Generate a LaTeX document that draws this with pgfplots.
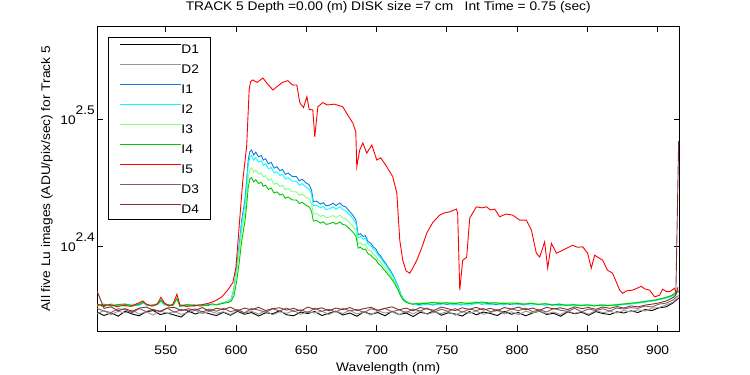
\documentclass[border=0pt]{standalone}
\usepackage{pgfplots}
\pgfplotsset{compat=1.18}
\usepackage{pgfplotstable}
\usepackage{fontspec}
\setmainfont{Liberation Sans}[FakeStretch=1.1]
\newcommand{\ff}{\fontsize{12.5}{15}\selectfont}
\definecolor{cD2}{RGB}{150,150,150}
\definecolor{cI1}{RGB}{20,120,220}
\definecolor{cI2}{RGB}{0,255,255}
\definecolor{cI3}{RGB}{128,255,128}
\definecolor{cI4}{RGB}{0,200,0}
\definecolor{cI5}{RGB}{255,0,0}
\definecolor{cD3}{RGB}{140,90,90}
\definecolor{cD4}{RGB}{128,50,50}

\pgfplotstableread{
x D1 D2 D3 D4
501 223.3 222.6 224.8 232.0
506 221.9 223.9 223.7 224.8
511 223.0 222.2 223.1 225.4
516 221.6 223.6 224.6 223.8
521 223.6 223.0 224.2 224.7
526 222.5 224.1 223.0 223.5
531 221.8 222.5 224.7 224.9
536 223.4 223.4 223.5 225.3
541 223.9 222.1 224.4 224.1
546 222.3 223.8 223.4 223.6
551 222.9 222.7 224.9 224.9
556 222.1 223.5 223.2 225.2
561 221.3 222.4 224.3 223.9
566 223.7 223.1 223.8 224.6
571 222.5 224.0 224.6 224.0
576 223.5 222.6 223.3 225.1
581 222.6 223.7 224.5 223.7
586 221.9 222.8 223.6 224.8
591 223.2 223.4 224.8 224.3
596 222.0 222.3 223.4 225.3
601 223.6 223.9 224.3 223.8
606 222.4 222.9 223.0 224.9
611 223.1 223.6 224.7 224.2
616 221.7 222.5 224.1 225.2
621 223.0 223.8 223.2 223.9
626 222.6 222.2 224.6 224.7
631 223.8 223.4 223.7 225.0
636 222.2 222.8 224.9 224.1
641 221.8 223.9 223.5 224.8
646 223.3 222.4 224.2 223.7
651 222.7 223.5 223.1 225.3
656 223.5 222.9 224.8 224.4
661 221.9 223.7 223.6 225.0
666 222.8 222.3 224.4 223.8
671 223.7 223.6 223.3 224.9
676 222.1 222.7 224.7 224.3
681 222.9 224.0 223.8 225.1
686 221.6 222.5 224.3 223.9
691 223.4 223.3 223.1 224.7
696 222.4 222.1 224.6 225.2
701 223.1 223.8 223.9 224.0
706 221.8 222.9 224.8 224.8
711 223.6 223.4 223.4 225.4
716 222.3 222.2 224.2 224.2
721 222.9 223.7 223.0 224.9
726 221.5 222.6 224.5 223.8
731 223.2 223.9 223.7 225.1
736 222.6 222.4 224.9 224.5
741 223.8 223.2 223.3 224.0
746 222.0 222.7 224.4 225.3
751 223.0 223.6 223.6 224.6
756 222.5 222.0 224.7 223.9
761 221.7 223.5 223.2 225.0
766 223.5 222.8 224.5 224.4
771 222.2 223.7 223.9 225.2
776 223.3 222.4 224.8 224.1
781 222.7 223.1 223.4 224.8
786 221.9 223.9 224.3 223.9
791 223.6 222.5 223.1 225.1
796 222.4 223.4 224.6 224.5
801 223.1 222.2 223.8 225.3
806 221.8 223.6 224.9 224.2
811 222.9 222.9 223.5 224.9
816 223.7 223.8 224.2 224.0
821 222.3 222.6 223.3 225.2
826 222.8 223.3 224.7 224.6
831 221.6 222.3 224.0 225.0
836 223.4 223.7 223.6 224.3
841 222.6 222.8 224.8 225.4
846 223.2 223.5 223.4 224.7
851 222.0 222.4 224.5 225.1
856 223.5 223.9 223.9 224.4
861 222.7 223.0 224.6 225.3
866 222.3 223.6 223.7 224.8
871 223.4 222.9 224.9 225.5
876 222.9 223.9 224.5 224.9
881 223.8 223.4 225.1 225.8
886 223.1 224.2 224.8 225.4
891 224.3 223.7 225.7 226.1
896 223.9 224.9 225.4 226.5
901 225.0 225.1 226.5 227.0
906 225.4 226.2 226.9 227.8
911 227.0 227.3 228.2 229.2
913 228.0 228.5 229.4 230.3
915 229.0 229.2 230.0 304.0
}\dark

\pgfplotstableread{
x I1 I2 I3 I4
501 226.2 225.8 226.4 226.0
506 225.6 226.3 225.9 226.5
511 226.5 225.7 226.6 225.8
516 225.8 226.4 226.1 226.3
521 226.3 225.9 225.7 226.6
526 225.7 226.5 226.3 225.9
531 226.4 226.0 226.8 226.4
534 227.2 226.9 227.5 227.3
537 226.0 225.8 226.2 226.1
541 225.9 226.4 226.0 225.8
544 226.6 226.2 226.8 226.5
546.5 228.0 227.6 228.3 228.1
549 226.5 226.1 226.9 226.7
552 225.8 226.3 225.9 226.2
555 226.3 225.9 226.4 226.0
557.9 229.0 228.6 229.3 228.8
560 225.6 225.9 226.0 225.7
565 226.2 225.6 226.5 226.3
570 225.7 226.3 225.8 226.1
575 226.4 225.9 226.3 225.7
580 226.0 226.4 226.6 226.2
583 226.5 226.2 226.3 226.6
586 226.3 226.3 226.3 226.2
589 226.8 226.8 226.7 226.6
592 227.3 227.2 227.1 227.0
594.5 227.8 227.7 227.6 227.2
596.6 228.6 228.5 228.3 227.8
598.5 233.0 232.7 232.1 230.0
600.4 242.2 241.6 240.1 236.0
602.2 252.0 251.0 248.6 244.0
604.0 263.6 262.1 258.7 254.0
606.3 273.3 271.4 267.2 263.0
607.5 283.0 280.7 275.6 270.5
608.6 293.8 291.1 285.0 279.5
609.8 298.3 295.4 288.9 284.0
611.0 299.2 296.3 289.7 284.6
612.5 296.5 293.7 287.3 282.4
614 298.0 295.1 288.6 283.6
616 295.5 292.7 286.5 281.6
618 296.2 293.4 287.1 282.2
619.3 293.8 291.1 285.0 280.2
621 294.5 291.8 285.6 280.8
623 291.8 289.2 283.2 278.6
625 292.6 289.9 284.0 279.3
627 289.5 287.0 281.2 276.8
629 290.3 287.7 281.9 277.4
631.2 288.2 285.7 280.1 275.8
633 288.9 286.4 280.7 276.3
635 286.3 283.9 278.5 274.2
637 287.0 284.6 279.1 274.8
640 285.2 282.8 277.5 273.4
643 285.1 282.7 277.4 273.3
645 283.0 280.7 275.6 271.6
647 283.8 281.5 276.3 272.2
650.2 281.7 279.5 274.5 270.6
652 281.0 278.8 273.9 270.0
653.7 278.3 276.2 271.5 267.8
655.0 272.5 270.6 266.5 263.2
657.3 272.8 270.9 266.7 263.4
660 271.3 269.5 265.4 262.2
662 272.0 270.2 266.0 262.8
664 270.5 268.7 264.7 261.6
666.8 270.9 269.1 265.1 261.9
669 271.8 270.0 265.8 262.6
671 270.6 268.8 264.8 261.7
673.9 271.9 270.1 265.9 262.7
676 270.4 268.6 264.6 261.5
678 270.0 268.2 264.3 261.2
681 267.6 265.9 262.2 259.3
683 266.0 264.4 260.8 258.0
685.3 263.6 262.1 258.7 256.1
686.9 256.7 255.5 252.7 250.6
688.5 257.2 256.0 253.1 251.0
690.5 255.9 254.7 252.0 249.9
692 256.3 255.1 252.4 250.2
694 253.5 252.4 249.9 248.0
696 252.8 251.7 249.3 247.4
697.6 251.2 250.2 247.9 246.2
699.5 250.2 249.2 247.1 245.4
701 248.3 247.4 245.4 243.8
703 247.0 246.2 244.3 242.8
704.7 245.2 244.4 242.7 241.4
706.5 243.8 243.1 241.5 240.2
708 242.2 241.6 240.1 239.0
710 240.5 239.9 238.6 237.6
711.8 238.6 238.1 237.0 236.1
713.5 236.4 236.0 235.0 234.3
715.4 233.7 233.4 232.7 232.2
717 231.0 230.8 230.4 230.0
718.9 228.8 228.7 228.4 228.2
721 227.6 227.5 227.4 227.3
723.6 226.9 226.9 226.8 226.7
726 226.6 226.6 226.5 226.5
730 226.3 226.0 226.8 226.9
735 226.8 226.4 227.2 226.7
740 226.1 226.6 226.9 227.3
745 227.0 226.3 227.4 226.8
750 226.4 226.8 226.9 227.1
755 226.9 226.2 227.3 226.6
760 226.2 226.5 226.8 227.2
765 226.7 226.1 227.1 226.7
770 227.1 226.6 227.5 227.0
775 226.5 226.9 227.0 227.4
780 226.8 226.3 227.3 226.9
785 226.3 226.7 226.8 227.1
790 226.9 226.2 227.2 226.6
795 226.4 226.8 226.7 227.0
800 226.7 226.4 227.1 226.8
805 226.2 226.6 226.6 226.5
810 226.8 226.1 226.9 226.9
815 226.3 226.5 226.5 226.4
820 226.6 226.0 226.8 226.7
825 226.1 226.4 226.3 226.2
830 226.5 225.9 226.6 226.5
835 226.0 226.3 226.2 226.0
840 226.4 225.8 226.5 226.3
845 225.9 226.2 226.1 225.9
850 226.3 225.7 226.4 226.2
855 225.8 226.1 226.0 225.8
860 226.2 225.8 226.3 226.1
865 225.9 226.0 226.1 225.9
870 226.2 225.9 226.4 226.2
875 226.4 226.3 226.6 226.5
880 226.7 226.5 226.9 226.8
885 227.0 226.9 227.2 227.1
890 227.4 227.2 227.6 227.5
895 227.8 227.7 228.0 227.9
900 228.3 228.2 228.5 228.4
905 229.0 228.8 229.2 229.1
910 229.9 229.7 230.2 230.0
913 231.0 230.8 231.4 231.2
915 232.0 231.5 232.4 232.0
}\lit

\pgfplotstableread{
x I5
501 226.5
505 225.8
510 226.3
515 225.5
520 226.0
525 225.6
530 226.8
533.7 227.8
536 226.5
540 225.8
544 226.6
546.5 229.3
549 227.0
552 225.7
555 226.4
557.9 230.6
560 226.2
565 225.6
570 225.9
575 226.2
580 226.8
585 227.8
589.9 229.5
594 232.3
597.7 235.5
599.9 242.1
602.7 265.0
604.8 283.3
607.5 301.0
609.3 333.4
610.3 338.5
611.9 339.5
615 338.0
619.1 340.7
622 337.5
626.2 333.4
630 336.0
633 338.0
636.8 339.1
640 336.5
643.2 336.4
645.4 325.7
648 323.0
650.4 329.4
652 322.0
654.6 321.6
656.0 306.4
658.2 323.5
661.7 325.9
665 324.5
670 325.0
675.9 323.5
680 318.0
683.1 314.1
685.2 309.2
685.9 290.3
688.0 299.2
690.2 303.0
693.0 297.5
696.6 301.9
700.1 293.8
703 295.0
707.2 290.3
711.5 285.1
714.4 276.8
716.5 254.2
718.6 245.2
721 240.5
723.6 239.5
726 242.0
728.6 245.2
732 250.5
735.7 257.5
740 262.5
744.9 266.0
748 267.0
752.1 267.6
756.8 268.9
757.7 267.0
759.2 232.3
761.3 245.2
764.1 246.5
766.3 264.6
771.0 270.0
775 269.5
778.2 270.0
781 268.5
784.1 268.9
787.6 265.2
792 266.5
796.9 266.0
801.8 263.6
806.6 263.6
810.2 258.9
813.7 248.3
816.1 246.6
819.6 253.4
821.8 241.7
824.4 252.8
828.0 248.3
832 249.5
835.1 250.5
839.5 251.9
843 251.0
846.7 251.2
850.2 248.3
852.8 241.7
855.2 247.4
860.9 245.2
864.4 240.8
868.0 239.5
873.0 232.3
875.1 231.0
878 232.0
882.2 232.3
885 233.0
888.4 233.9
891 232.8
894.3 232.3
897.9 229.5
901.4 230.2
903.6 232.7
906 231.8
908.6 231.6
912.1 233.1
913.3 231.0
914.5 233.5
}\red

\begin{document}
\begin{tikzpicture}[font=\ff]
\useasboundingbox (0,0) rectangle (750pt,375pt);
\begin{axis}[
  at={(97pt,44pt)}, anchor=south west,
  scale only axis, width=582.5pt, height=305pt,
  ymode=log,
  xmin=501, xmax=915.6, ymin=215.8, ymax=374.3,
  axis line style={line width=0.9pt},
  tick align=inside, major tick length=6pt,
  every tick/.style={black, line width=0.9pt},
  xtick={550,600,650,700,750,800,850,900},
  xticklabels={550,600,650,700,750,800,850,900},
  ytick={251.1886,316.2278},
  yticklabels={10\raisebox{10pt}{2.4},10\raisebox{10pt}{2.5}},
  minor tick num=0, yminorticks=false,
  tick label style={font=\ff},
  xticklabel style={anchor=base, inner sep=0pt, yshift=-23.5pt},
  yticklabel style={anchor=base east, inner sep=0pt, xshift=-2pt, yshift=-5pt},
  xlabel={Wavelength (nm)},
  xlabel style={at={(axis description cs:0.5,0)}, anchor=base, yshift=-40.5pt, font=\ff},
  legend style={at={(axis description cs:0.0189,0.9638)}, anchor=north west,
    draw=black, line width=0.9pt, fill=white,
    inner xsep=11pt, inner ysep=6.5pt, row sep=10.5pt,
    nodes={inner sep=0pt, text height=9pt, text depth=0pt, font=\ff},
    /tikz/every even column/.append style={column sep=6pt}},
  legend cell align=left,
  legend image code/.code={\draw[#1, line width=1pt] (0pt,4.5pt) -- (61pt,4.5pt);},
  every axis plot/.append style={line width=0.9pt},
]
\addplot[black] table[x=x,y=D1]{\dark}; \addlegendentry{D1}
\addplot[cD2] table[x=x,y=D2]{\dark}; \addlegendentry{D2}
\addplot[cI1] table[x=x,y=I1]{\lit}; \addlegendentry{I1}
\addplot[cI2] table[x=x,y=I2]{\lit}; \addlegendentry{I2}
\addplot[cI3] table[x=x,y=I3]{\lit}; \addlegendentry{I3}
\addplot[cI4] table[x=x,y=I4]{\lit}; \addlegendentry{I4}
\addplot[cI5] table[x=x,y=I5]{\red}; \addlegendentry{I5}
\addplot[cD3] table[x=x,y=D3]{\dark}; \addlegendentry{D3}
\addplot[cD4] table[x=x,y=D4]{\dark}; \addlegendentry{D4}
\end{axis}
\node[anchor=base, inner sep=0pt] at (388.25pt,364pt) {TRACK 5 Depth =0.00 (m) DISK size =7 cm\ \ \ Int Time = 0.75 (sec)};
\node[anchor=base, rotate=90, inner sep=0pt] at (50pt,196.5pt) {All five Lu images (ADU/pix/sec) for Track 5};
\end{tikzpicture}
\end{document}
